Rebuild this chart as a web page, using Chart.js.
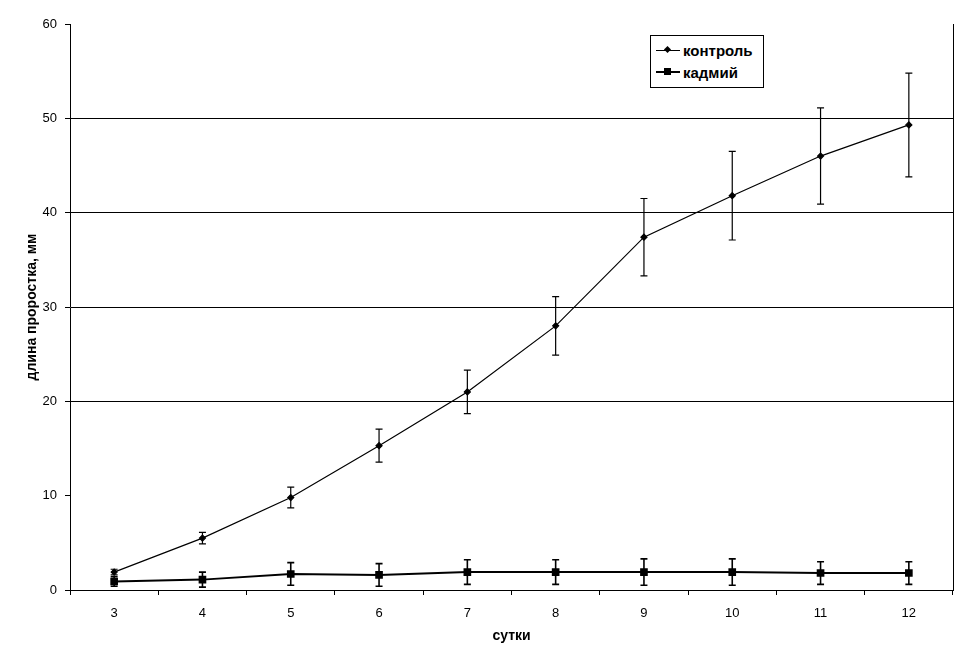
<!DOCTYPE html>
<html lang="ru">
<head>
  <meta charset="UTF-8">
  <title>длина проростка</title>
  <script src="https://cdn.jsdelivr.net/npm/chart.js"></script>
  <style>
    body { margin: 0; background: #fff; font-family: Arial, "Liberation Sans", sans-serif; }
    #wrap { position: relative; width: 974px; height: 664px; }
    #legend { position: absolute; left: 650px; top: 35px; width: 112px; border: 1px solid #000; background: #fff; padding: 3px 0 4px 0; }
    .row { display: flex; align-items: center; height: 22px; font-weight: bold; font-size: 15px; color: #000; }
    .key { position: relative; width: 24px; height: 10px; margin: 0 3px 0 5px; }
    .key .ln { position: absolute; left: 0; right: 0; top: 4px; border-top: 2px solid #000; }
    .key .mk { position: absolute; background: #000; }
    .dia { width: 5px; height: 5px; left: 9px; top: 2px; transform: rotate(45deg); }
    .sq { width: 7px; height: 7px; left: 8px; top: 1px; }
  </style>
</head>
<body>
  <div id="wrap">
    <canvas id="chart" width="974" height="664"></canvas>
    <div id="legend">
      <div class="row"><span class="key"><span class="ln" style="border-top-width:1px;top:5px"></span><span class="mk dia"></span></span>контроль</div>
      <div class="row"><span class="key"><span class="ln"></span><span class="mk sq"></span></span>кадмий</div>
    </div>
  </div>

  <script>
    const days = ['3', '4', '5', '6', '7', '8', '9', '10', '11', '12'];
    const control = [1.9, 5.5, 9.8, 15.3, 21.0, 28.0, 37.4, 41.8, 46.0, 49.3];
    const controlErr = [0.3, 0.6, 1.1, 1.75, 2.3, 3.1, 4.1, 4.7, 5.1, 5.5];
    const cadmium = [0.9, 1.1, 1.7, 1.6, 1.9, 1.9, 1.9, 1.9, 1.8, 1.8];
    const cadmiumErr = [0.5, 0.8, 1.2, 1.2, 1.3, 1.3, 1.4, 1.4, 1.2, 1.2];
    const yTicks = [0, 10, 20, 30, 40, 50, 60];

    const font = 'Arial, "Liberation Sans", sans-serif';

    // error bars + right border line
    const extras = {
      id: 'extras',
      afterDatasetsDraw(chart) {
        const ctx = chart.ctx;
        const x = chart.scales.x, y = chart.scales.y;
        const errs = [controlErr, cadmiumErr];
        const widths = [1.2, 1.6];
        ctx.save();
        ctx.strokeStyle = '#000';
        chart.data.datasets.forEach((ds, d) => {
          ctx.lineWidth = widths[d];
          ds.data.forEach((v, i) => {
            const px = x.getPixelForValue(i);
            const top = y.getPixelForValue(v + errs[d][i]);
            const bot = y.getPixelForValue(v - errs[d][i]);
            ctx.beginPath();
            ctx.moveTo(px, top); ctx.lineTo(px, bot);
            ctx.moveTo(px - 3.5, top); ctx.lineTo(px + 3.5, top);
            ctx.moveTo(px - 3.5, bot); ctx.lineTo(px + 3.5, bot);
            ctx.stroke();
          });
        });
        const a = chart.chartArea;
        ctx.lineWidth = 1;
        ctx.beginPath();
        ctx.moveTo(a.right + 0.5, a.top);
        ctx.lineTo(a.right + 0.5, a.bottom);
        ctx.stroke();
        ctx.restore();
      }
    };

    new Chart(document.getElementById('chart'), {
      type: 'line',
      data: {
        labels: days,
        datasets: [
          {
            label: 'контроль',
            data: control,
            borderColor: '#000',
            backgroundColor: '#000',
            borderWidth: 1.2,
            pointStyle: 'rectRot',
            pointRadius: 3,
            tension: 0,
            fill: false
          },
          {
            label: 'кадмий',
            data: cadmium,
            borderColor: '#000',
            backgroundColor: '#000',
            borderWidth: 2,
            pointStyle: 'rect',
            pointRadius: 4,
            tension: 0,
            fill: false
          }
        ]
      },
      options: {
        responsive: false,
        animation: false,
        layout: { padding: { left: 0, top: 24, right: 21, bottom: 0 } },
        plugins: { legend: { display: false }, tooltip: { enabled: false } },
        scales: {
          x: {
            offset: true,
            afterFit: s => { s.height = 74; },
            grid: { display: true, drawOnChartArea: false, offset: true, tickLength: 5, tickColor: '#000' },
            border: { display: true, color: '#000', width: 1 },
            ticks: { color: '#000', font: { family: font, size: 13 }, padding: 11 },
            title: { display: true, text: 'сутки', color: '#000', font: { family: font, size: 14, weight: 'bold' }, padding: { top: 0, bottom: 19 } }
          },
          y: {
            min: 0,
            max: 60,
            afterFit: s => { s.width = 70; },
            afterBuildTicks: s => { s.ticks = yTicks.map(v => ({ value: v })); },
            grid: {
              color: c => (c.tick && c.tick.value >= 20 && c.tick.value <= 50) ? '#000' : 'rgba(0,0,0,0)',
              tickColor: '#000',
              tickLength: 5,
              lineWidth: 1
            },
            border: { display: true, color: '#000', width: 1 },
            ticks: { color: '#000', font: { family: font, size: 13 }, padding: 8 },
            title: { display: true, text: 'длина проростка, мм', color: '#000', font: { family: font, size: 14, weight: 'bold' }, padding: { top: 24, bottom: 0 } }
          }
        }
      },
      plugins: [extras]
    });
  </script>
</body>
</html>
